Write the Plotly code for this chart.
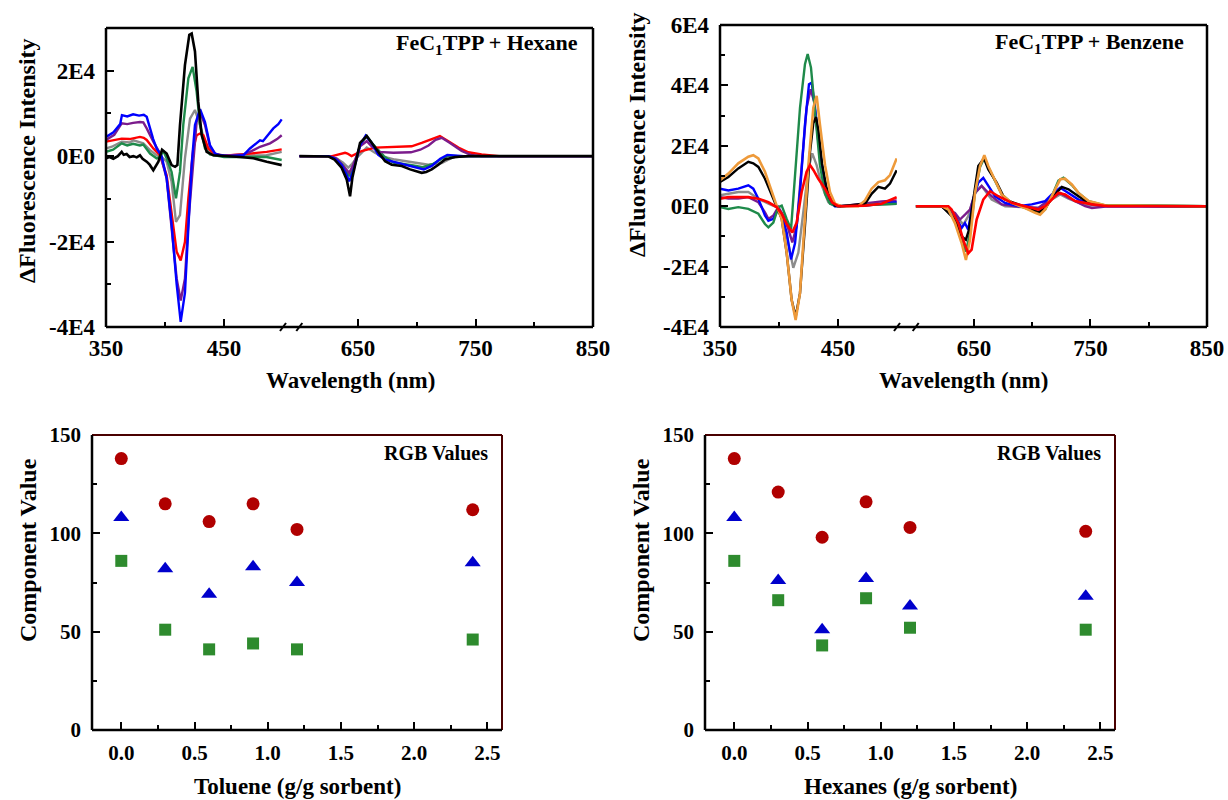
import plotly.graph_objects as go

W, H = 1228, 800
FONT = "Liberation Serif"

# ---------------- Data: FeC1TPP + Hexane (wavelength nm, dFluorescence) ----------------
hex_gray_L = [(350,1800),(355,2200),(363.3,3400),(370,3200),(373.2,3700),(381.6,3000),(387.3,1400),(392.9,200),(397.2,-200),(401.4,-1300),(405.6,-6000),(409.3,-15400),(412.7,-13800),(416.9,-500),(421.2,8800),(425.4,10800),(429.7,7300),(435.3,1800),(441,200),(450,0),(486,200),(498.9,1000)]
hex_green_L = [(350,1000),(356,1500),(363.3,3000),(368,2500),(373,2900),(378.8,2500),(381.6,2700),(387.3,600),(392.9,-500),(395.8,-200),(398.6,1200),(401.4,-500),(405.6,-3700),(409.3,-9900),(412.7,-3700),(415.5,7300),(419.8,18200),(423.4,20900),(426.8,15100),(429.7,7300),(433.9,1800),(438.1,400),(450,-200),(486,-200),(498.9,-900)]
hex_red_L = [(350,3400),(355,3600),(363.3,4100),(370,4000),(378.8,4500),(382,4300),(384.5,3800),(390.1,1800),(395.8,200),(401.4,-4500),(405.6,-13800),(409.9,-22400),(413.3,-24400),(416.9,-20100),(419.8,-9900),(424,1800),(426.8,4900),(429.7,5300),(432.5,4900),(436.7,1800),(442.4,400),(450,100),(472,600),(486.2,1000),(498.9,1600)]
hex_purple_L = [(350,3800),(357,5000),(363.3,7700),(368,7500),(373,7800),(378.8,8000),(381.6,7900),(384.5,6500),(390.1,3400),(395.8,600),(401.4,-5200),(405.6,-16200),(409.9,-28700),(413.3,-33800),(416.9,-28700),(419.8,-15400),(424,-1000),(426.8,8000),(429.7,10400),(433.9,7300),(438.1,2200),(442.4,600),(450,100),(466.4,400),(472,1000),(480.5,2200),(489,3000),(495,4000),(498.9,4900)]
hex_blue_L = [(350,4500),(356,5500),(362,7500),(363.5,9600),(368,9300),(373,9800),(378,9500),(382,9700),(384.5,9200),(387.3,6500),(390,4000),(392.9,1800),(397.2,0),(401.4,-5200),(405.6,-16000),(409.9,-30000),(413.3,-38800),(416.9,-32000),(419.8,-16000),(422.6,-2000),(425.4,7300),(429.7,11000),(433.9,8000),(438.1,2600),(442.4,600),(446.6,200),(455,0),(466.4,200),(472,1800),(480.5,3700),(483,3500),(486.2,4500),(491.8,6500),(496,7500),(498.9,8600)]
hex_black_L = [(350,-500),(353,-200),(356.2,-600),(360,0),(363.3,1000),(365,300),(367.5,500),(370,-200),(373.2,0),(376,-300),(378.8,200),(381,-600),(384.5,-1300),(387,-2000),(390.1,-3300),(392,-2500),(394.4,-1300),(397.5,1500),(401.4,600),(405.6,-2100),(408.5,-2500),(410.5,-2100),(412.7,7300),(416.9,21300),(420.6,28400),(422.6,28700),(425.4,24500),(428.2,12700),(431.1,4900),(435.3,1000),(441,200),(463.6,-200),(474.9,-500),(486.2,-1300),(498.9,-2100)]

hex_gray_R = [(600,0),(625,0),(633.2,-800),(637,-1500),(641.7,-2700),(645,-1800),(650.2,0),(657.4,2000),(664.4,800),(670.1,0),(681.4,-800),(698.4,-1600),(709.8,-2000),(721.2,-1600),(729.7,-400),(740,0),(850,0)]
hex_green_R = [(600,0),(625,0),(632,-600),(638,-2500),(642.5,-4700),(645.5,-3000),(649,0),(652,2700),(657.4,4700),(662,3000),(672,0),(680,-1500),(697,-2200),(705,-2600),(714,-1800),(722,-500),(727,100),(735,0),(850,0)]
hex_red_R = [(600,0),(628,0),(638.9,800),(641,600),(644.5,0),(648,500),(653,1200),(664.4,2000),(681.4,2200),(695.6,2300),(704.2,3100),(715.5,4300),(719.7,4700),(726.9,3500),(735.4,2000),(743.9,900),(755.2,400),(770,0),(850,0)]
hex_purple_R = [(600,0),(625,0),(632,-600),(638,-2500),(642.5,-3900),(646,-2000),(651.7,2300),(657.4,3500),(661.6,2300),(667.3,1000),(680,800),(695,900),(703,1500),(710,2500),(716,3800),(721.2,4300),(728.3,3100),(738.2,1200),(746,300),(755,0),(850,0)]
hex_blue_R = [(600,0),(625,0),(630,-500),(636,-2000),(640.4,-4500),(642.5,-5900),(645.2,-4000),(648,-1500),(651.7,2500),(656.5,4800),(661.6,3100),(667.3,300),(673,-800),(680,-1300),(690,-2000),(700,-2700),(706,-3100),(712.7,-2300),(720,-600),(726,300),(732,100),(740,0),(850,0)]
hex_black_R = [(600,0),(620,0),(625,-100),(630,-800),(636,-2700),(640.4,-5500),(643.2,-9400),(645.2,-5000),(647.4,-2300),(651.7,3100),(657.4,4700),(661.6,3100),(667.3,800),(673,-1200),(678.7,-2000),(687.2,-2300),(694.3,-3100),(700,-3500),(704.2,-3900),(708,-3700),(712.7,-3100),(718.4,-2000),(724,-800),(732.6,-200),(744,0),(850,0)]

# ---------------- Data: FeC1TPP + Benzene ----------------
ben_gray_L = [(350,3600),(365.5,4700),(374,4700),(382.5,2500),(391,800),(398,-300),(402.3,-3100),(406.5,-9800),(412.1,-20400),(416.4,-15400),(420.6,-2000),(424.9,12500),(428.2,17500),(431.9,13600),(436.2,6900),(441.8,1300),(447.5,0),(499.7,800)]
ben_purple_L = [(350,3000),(357.1,2500),(365.5,2500),(374,3000),(382.5,1300),(388.1,-2000),(391,-4200),(395.2,-3100),(399.4,-300),(403.7,-3100),(407.9,-7600),(411.3,-12000),(415,-6500),(419.2,12500),(423.4,32600),(426.8,38700),(429.7,34800),(433.3,21400),(437.6,10300),(441.8,3600),(447.5,200),(453,0),(487,1600),(499.7,1900)]
ben_blue_L = [(350,5800),(357.1,5200),(365.5,5800),(374,6900),(378.2,5800),(382.5,2500),(388.1,-3100),(391,-4800),(395.2,-4200),(399.4,-900),(402.3,-3100),(406.5,-8700),(410.2,-17600),(413.6,-12200),(417.8,4700),(422,27000),(425.4,40400),(427.7,40900),(430.5,32600),(434.7,18100),(439,6900),(443.2,1300),(447.5,0),(472.9,200),(487,800),(499.7,1300)]
ben_green_L = [(350,-300),(357.1,-900),(365.5,-300),(374,-900),(382.5,-2500),(388.1,-5900),(391,-7000),(395.2,-5400),(399.4,-300),(402.3,200),(406.5,-4200),(410.2,-7600),(413.6,10300),(417.8,32600),(422,47000),(424.3,50400),(427.1,45900),(430.5,30300),(434.7,13600),(439,4100),(443.2,800),(450,0),(499.7,800)]
ben_black_L = [(350,8000),(357.1,9700),(365.5,12500),(374,14700),(378.2,14200),(382.5,13000),(388.1,9100),(393.8,3600),(398,-300),(402.3,-4200),(406.5,-15400),(410.7,-31000),(414.1,-36600),(417.8,-28800),(422,-6500),(426.3,18000),(429.1,27500),(431.4,29500),(433.5,25000),(436.5,14000),(440,6500),(443.2,2500),(447.5,200),(453.1,0),(472.9,800),(478.5,4100),(484.2,6400),(489.8,5800),(494.1,7500),(499.7,11900)]
ben_orange_L = [(350,8600),(357.1,10800),(365.5,14200),(374,16400),(378.2,16900),(382.5,15800),(388.1,11400),(393.8,4700),(398,200),(402.3,-4200),(406.5,-15400),(410.7,-31000),(414.1,-37700),(417.8,-28800),(420.6,-10900),(424.9,13600),(429.1,32600),(431.9,36500),(434.7,27000),(439,13600),(443.2,4700),(447.5,800),(453.1,0),(467.2,0),(472.9,1900),(478.5,5800),(484.2,8000),(489.8,8600),(494.1,10300),(499.7,15800)]
ben_red_L = [(350,2500),(357.1,3000),(365.5,3000),(374,3000),(382.5,2500),(391,1300),(398,-300),(402.3,-2500),(406.5,-5900),(411.3,-8700),(415,-5400),(419.2,4700),(423.4,11400),(426.3,13600),(429.1,12000),(433.3,9100),(439,5800),(445,1300),(450,0),(472.9,200),(487,800),(499.7,3000)]

ben_gray_R = [(600,0),(622,0),(633.7,-2800),(640.9,-6100),(645.1,-3300),(650.9,4400),(656.6,6700),(665.2,2200),(676.7,0),(705.3,-600),(716.8,2200),(724,3900),(731.1,2500),(745.4,300),(850,0)]
ben_purple_R = [(600,0),(622,0),(633.7,-2200),(638,-4400),(642.3,-2800),(646.6,-1100),(650.9,4400),(656.6,6700),(665.2,3300),(673.8,600),(685.3,0),(705.3,-600),(716.8,2800),(724,4400),(731.1,2800),(745.4,0),(751.2,-600),(765,0),(850,0)]
ben_blue_R = [(600,0),(622,0),(633.7,-3300),(639.4,-7200),(642.3,-5600),(645.1,-7800),(649.4,2200),(653.7,7800),(658,9400),(662.3,6700),(668,3300),(676.7,1100),(688.1,0),(699.6,600),(705.3,1100),(711.1,1700),(716.8,3900),(724,6100),(731.1,4400),(739.7,2200),(751.2,600),(765,0),(850,0)]
ben_green_R = [(600,0),(622,0),(628,-1100),(633.7,-5000),(639.4,-11000),(643.1,-15000),(646.6,-9000),(650.9,4400),(655.2,13000),(658.9,16000),(662.3,13000),(668,8500),(673.8,3900),(682.4,1100),(693.9,-600),(702.5,-2000),(706.8,-2500),(711.1,-1100),(716.8,3300),(722.5,8500),(726.8,9400),(734,7000),(739.7,4400),(748.3,1700),(762.6,300),(850,0)]
ben_black_R = [(600,0),(622.2,0),(633.7,-4400),(639.4,-10000),(643.1,-11100),(645.7,-7800),(649.4,2200),(653.7,13300),(658.6,15800),(662.3,12200),(669.5,7800),(676.7,2200),(688.1,600),(699.6,-1100),(705.3,-2000),(711.1,-600),(718.2,3300),(725.4,6400),(731.1,5600),(739.7,3300),(748.3,1100),(762.6,200),(850,0)]
ben_orange_R = [(600,0),(622.2,0),(628,-1100),(633.7,-5600),(639.4,-12200),(643.1,-17800),(646.6,-11100),(650.9,4400),(655.2,13300),(658.9,16900),(662.3,13300),(668,8900),(673.8,3900),(682.4,1100),(693.9,-600),(702.5,-2200),(706.8,-2800),(711.1,-1100),(716.8,3300),(724,8900),(728.2,9100),(734,7200),(739.7,4400),(748.3,1700),(762.6,300),(850,0)]
ben_red_R = [(600,0),(628,0),(630.8,-1100),(636.6,-5600),(641.7,-12200),(645.1,-15600),(648,-14400),(652.3,-4400),(658,2200),(663.8,5000),(670.9,3300),(682.4,1100),(693.9,0),(705.3,-1100),(711.1,0),(716.8,2200),(722.5,4400),(728.2,3900),(736.9,1700),(751.2,600),(765,0),(850,0)]

# ---------------- Data: RGB values ----------------
loading = [0.0, 0.3, 0.6, 0.9, 1.2, 2.4]
tol_R = [138, 115, 106, 115, 102, 112]
tol_G = [86, 51, 41, 44, 41, 46]
tol_B = [108, 82, 69, 83, 75, 85]
hexs_R = [138, 121, 98, 116, 103, 101]
hexs_G = [86, 66, 43, 67, 52, 51]
hexs_B = [108, 76, 51, 77, 63, 68]

spec_ticks_y = [-40000, -20000, 0, 20000, 40000, 60000]
spec_ticktext_y = ["-4E4", "-2E4", "0E0", "2E4", "4E4", "6E4"]

COL = {"gray": "#8c8c8c", "green": "#1e8a4a", "red": "#ff0000", "purple": "#7b1c8c",
       "blue": "#0000ff", "black": "#000000", "orange": "#ee9a3a"}

def px(x): return x / W
def py(y): return 1 - y / H

fig = go.Figure()

def add_curves(curves, xl, xr, yl, yr):
    for name, left, right, w in curves:
        fig.add_trace(go.Scatter(x=[p[0] for p in left], y=[p[1] for p in left], mode="lines",
                                 line=dict(color=COL[name], width=w), xaxis=xl, yaxis=yl,
                                 showlegend=False, hoverinfo="skip"))
        fig.add_trace(go.Scatter(x=[p[0] for p in right], y=[p[1] for p in right], mode="lines",
                                 line=dict(color=COL[name], width=w), xaxis=xr, yaxis=yr,
                                 showlegend=False, hoverinfo="skip"))

add_curves([("gray", hex_gray_L, hex_gray_R, 2.4), ("green", hex_green_L, hex_green_R, 2.4),
            ("red", hex_red_L, hex_red_R, 2.4), ("purple", hex_purple_L, hex_purple_R, 2.4),
            ("blue", hex_blue_L, hex_blue_R, 2.4), ("black", hex_black_L, hex_black_R, 2.6)],
           "x", "x2", "y", "y2")
add_curves([("gray", ben_gray_L, ben_gray_R, 2.4), ("purple", ben_purple_L, ben_purple_R, 2.4),
            ("blue", ben_blue_L, ben_blue_R, 2.4), ("green", ben_green_L, ben_green_R, 2.4),
            ("black", ben_black_L, ben_black_R, 2.4), ("orange", ben_orange_L, ben_orange_R, 2.6),
            ("red", ben_red_L, ben_red_R, 2.6)],
           "x3", "x4", "y3", "y4")

def add_rgb(R, G, B, xa, ya):
    fig.add_trace(go.Scatter(x=loading, y=R, mode="markers", xaxis=xa, yaxis=ya, showlegend=False,
                             marker=dict(symbol="circle", size=13, color="#b00000")))
    fig.add_trace(go.Scatter(x=loading, y=B, mode="markers", xaxis=xa, yaxis=ya, showlegend=False,
                             marker=dict(symbol="triangle-up", size=14, color="#0000cc")))
    fig.add_trace(go.Scatter(x=loading, y=G, mode="markers", xaxis=xa, yaxis=ya, showlegend=False,
                             marker=dict(symbol="square", size=12, color="#2e8b2e")))

add_rgb(tol_R, tol_G, tol_B, "x5", "y5")
add_rgb(hexs_R, hexs_G, hexs_B, "x6", "y6")

tickfont_top = dict(family=FONT, size=23, color="black", weight="bold")
tickfont_bot = dict(family=FONT, size=21, color="black", weight="bold")
common = dict(showgrid=False, zeroline=False, showline=False, ticks="inside", ticklen=8,
              tickwidth=2, tickcolor="black", automargin=False)
MINOR = dict(ticks="inside", ticklen=5, tickwidth=2, tickcolor="black")

def seg_x(dom, rng, major, minor, anchor):
    return dict(common, domain=[px(dom[0]), px(dom[1])], range=rng, tickmode="array",
                tickvals=major, ticktext=[str(v) for v in major], anchor=anchor,
                minor=dict(MINOR, tickvals=minor), tickfont=tickfont_top, ticklabelstandoff=5)

# panel geometry (pixels)
A = dict(l=106, lb=283, rb=299.3, r=593, t=28, b=327)
B = dict(l=720, lb=897, rb=915.7, r=1207, t=25, b=327)
C = dict(l=92, r=502, t=435, b=730)
D = dict(l=705, r=1115, t=435, b=730)

layout = dict(width=W, height=H, margin=dict(l=0, r=0, t=0, b=0), plot_bgcolor="white",
              paper_bgcolor="white", template="none", showlegend=False)

layout["xaxis"] = seg_x((A["l"], A["lb"]), [350, 500], [350, 450], [400], "y")
layout["xaxis2"] = seg_x((A["rb"], A["r"]), [600, 850], [650, 750, 850], [700, 800], "y2")
layout["yaxis"] = dict(common, domain=[py(A["b"]), py(A["t"])], range=[-40000, 30000], anchor="x",
                       tickmode="array", tickvals=spec_ticks_y[:4], ticktext=spec_ticktext_y[:4],
                       minor=dict(MINOR, tickvals=[-30000, -10000, 10000]),
                       tickfont=tickfont_top, ticklabelstandoff=10)
layout["yaxis2"] = dict(domain=[py(A["b"]), py(A["t"])], range=[-40000, 30000], anchor="x2",
                        visible=False, showgrid=False, zeroline=False)

layout["xaxis3"] = seg_x((B["l"], B["lb"]), [350, 500], [350, 450], [400], "y3")
layout["xaxis4"] = seg_x((B["rb"], B["r"]), [600, 850], [650, 750, 850], [700, 800], "y4")
layout["yaxis3"] = dict(common, domain=[py(B["b"]), py(B["t"])], range=[-40000, 60000], anchor="x3",
                        tickmode="array", tickvals=spec_ticks_y, ticktext=spec_ticktext_y,
                        minor=dict(MINOR, tickvals=[-30000, -10000, 10000, 30000, 50000]),
                        tickfont=tickfont_top, ticklabelstandoff=10)
layout["yaxis4"] = dict(domain=[py(B["b"]), py(B["t"])], range=[-40000, 60000], anchor="x4",
                        visible=False, showgrid=False, zeroline=False)

for i, P in ((5, C), (6, D)):
    layout[f"xaxis{i}"] = dict(common, domain=[px(P["l"]), px(P["r"])], range=[-0.2, 2.6], anchor=f"y{i}",
                               tickmode="linear", tick0=0, dtick=0.5, tickformat=".1f",
                               minor=dict(MINOR, tick0=0, dtick=0.25),
                               tickfont=tickfont_bot, ticklabelstandoff=8)
    layout[f"yaxis{i}"] = dict(common, domain=[py(P["b"]), py(P["t"])], range=[0, 150], anchor=f"x{i}",
                               tickmode="linear", tick0=0, dtick=50,
                               minor=dict(MINOR, tick0=0, dtick=25),
                               tickfont=tickfont_bot, ticklabelstandoff=10)

fig.update_layout(**layout)

# frames and break marks
shapes = []
def line(x0, y0, x1, y1, color="black", width=2.5):
    shapes.append(dict(type="line", xref="paper", yref="paper", x0=px(x0), y0=py(y0), x1=px(x1), y1=py(y1),
                       line=dict(color=color, width=width)))

for P in (A, B):
    line(P["l"], P["t"], P["r"], P["t"])
    line(P["r"], P["t"], P["r"], P["b"])
    line(P["l"], P["t"], P["l"], P["b"])
    line(P["l"], P["b"], P["r"], P["b"])
    for xb in (P["lb"], P["rb"]):
        line(xb - 3, P["b"] + 4, xb + 3, P["b"] - 4, width=2)

for P in (C, D):
    line(P["l"], P["t"], P["r"], P["t"], color="#4a0000", width=2)
    line(P["r"], P["t"], P["r"], P["b"], color="#4a0000", width=2)
    line(P["l"], P["t"], P["l"], P["b"], width=2.5)
    line(P["l"], P["b"], P["r"], P["b"], width=2.5)

fig.update_layout(shapes=shapes)

def ann(text, x, y, size=23, xanchor="center", angle=0):
    fig.add_annotation(text=text, x=px(x), y=py(y), xref="paper", yref="paper", showarrow=False,
                       xanchor=xanchor, yanchor="middle", textangle=angle,
                       font=dict(family=FONT, size=size, color="black", weight="bold"))

ann("FeC<sub>1</sub>TPP + Hexane", 580, 44, size=22, xanchor="right")
ann("FeC<sub>1</sub>TPP + Benzene", 1186, 43, size=22, xanchor="right")
ann("ΔFluorescence Intensity", 27, 161, size=24, angle=-90)
ann("ΔFluorescence Intensity", 637, 135, size=24, angle=-90)
ann("Wavelength (nm)", 350, 380, size=23)
ann("Wavelength (nm)", 963, 380, size=23)
ann("RGB Values", 490, 453, size=20, xanchor="right")
ann("RGB Values", 1103, 453, size=20, xanchor="right")
ann("Component Value", 28, 550, size=24, angle=-90)
ann("Component Value", 641, 550, size=24, angle=-90)
ann("Toluene (g/g sorbent)", 297, 786, size=23)
ann("Hexanes (g/g sorbent)", 910, 786, size=23)

fig.write_html("out.html", config={"displayModeBar": False},
               post_script="document.body.style.margin='0';document.body.style.overflow='hidden';")
